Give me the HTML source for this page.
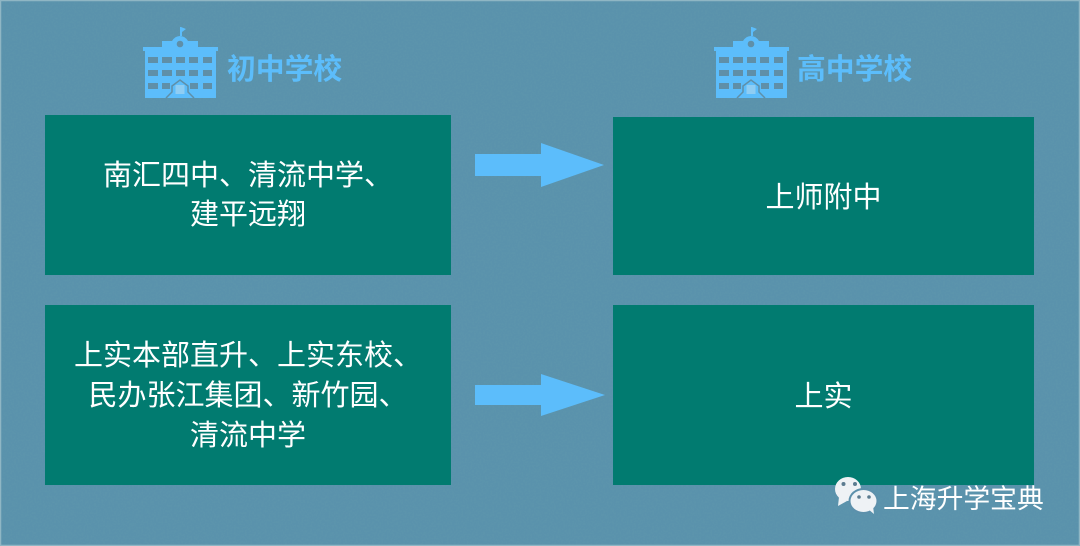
<!DOCTYPE html>
<html><head><meta charset="utf-8"><style>
html,body{margin:0;padding:0}
body{width:1080px;height:546px;overflow:hidden;position:relative;background:#5a8fa8;font-family:"Liberation Sans","Noto Sans CJK SC",sans-serif}
svg{position:absolute;left:0;top:0}
.t{position:absolute;white-space:nowrap;text-align:center;color:#fff;font-size:29px;line-height:40px}
.h{position:absolute;white-space:nowrap;color:#5cbdfb;font-size:28.8px;line-height:40px;font-weight:700}
</style></head><body>
<svg width="1080" height="546" viewBox="0 0 1080 546">
<defs>
<filter id="n" x="0" y="0" width="100%" height="100%"><feTurbulence type="fractalNoise" baseFrequency="0.55" numOctaves="3" seed="4"/><feColorMatrix values="0 0 0 0 0.12  0 0 0 0 0.32  0 0 0 0 0.42  1.6 0 0 0 -0.55"/></filter>
<g id="b">
<path d="M181 27l5 2-4 3v4h-2v-9z" fill="#5cbdfb"/>
<path d="M143 47h19v-6h10q3-5 8-5t8 5h10v6h20v4h-2v47h-71v-47h-2z" fill="#5cbdfb"/>
<circle cx="180" cy="44" r="3.3" fill="#5f8fa8"/>
<g fill="#5f8fa8">
<rect x="148" y="57" width="10" height="6"/><rect x="162" y="57" width="10" height="6"/><rect x="176" y="57" width="9" height="6"/><rect x="189" y="57" width="9" height="6"/><rect x="203" y="57" width="9" height="6"/>
<rect x="148" y="70" width="10" height="6"/><rect x="162" y="70" width="10" height="6"/><rect x="176" y="70" width="9" height="6"/><rect x="189" y="70" width="9" height="6"/><rect x="203" y="70" width="9" height="6"/>
<rect x="148" y="83" width="10" height="6"/><rect x="162" y="83" width="8" height="6"/><rect x="190" y="83" width="8" height="6"/><rect x="203" y="83" width="9" height="6"/>
</g>
<path d="M166 98l6-6v-6l8-6 8 6v6l6 6" fill="none" stroke="#5f8fa8" stroke-width="1.5"/>
<rect x="175.500" y="85" width="9" height="9" fill="#8fcdf3"/>
</g>
</defs>
<rect x="0" y="0" width="1080" height="546" fill="#5a92ac"/>
<rect x="0" y="0" width="1080" height="546" filter="url(#n)" opacity=".55"/>
<rect x="0.5" y="0.5" width="1079" height="545" fill="none" stroke="#8fb6c4" stroke-width="1.500"/>
<rect x="45" y="115" width="406" height="160" fill="#017b70"/>
<rect x="45" y="305" width="406" height="180" fill="#017b70"/>
<rect x="613" y="117" width="421" height="158" fill="#017b70"/>
<rect x="613" y="305" width="421" height="180" fill="#017b70"/>
<use href="#b"/>
<use href="#b" x="571"/>
<path d="M475 154h66v-11l63 22-63 22v-11h-66z" fill="#5cbdfb"/>
<path d="M475 385h66v-11l64 21-64 21v-11h-66z" fill="#5cbdfb"/>
<g fill="#eef2f5">
<ellipse cx="848" cy="489" rx="13" ry="12"/>
<path d="M839 497l-1 9 9-5z"/>
</g>
<ellipse cx="863.500" cy="501" rx="15" ry="13" fill="#5c90ab"/>
<g fill="#eef2f5">
<ellipse cx="863.500" cy="501" rx="13" ry="11"/>
<path d="M868 509l6 5-1-8z"/>
</g>
<g fill="#5c7c90">
<circle cx="843.500" cy="484" r="2"/><circle cx="855" cy="484" r="2"/>
<circle cx="859" cy="497" r="1.800"/><circle cx="869" cy="497" r="1.800"/>
</g>
</svg>
<div class="h" style="left:227px;top:50px">初中学校</div>
<div class="h" style="left:797px;top:50px">高中学校</div>
<div class="t" style="left:45px;width:406px;top:157px;line-height:39px">南汇四中、清流中学、<br>建平远翔</div>
<div class="t" style="left:45px;width:406px;top:336px">上实本部直升、上实东校、<br>民办张江集团、新竹园、<br>清流中学</div>
<div class="t" style="left:613px;width:421px;top:178px">上师附中</div>
<div class="t" style="left:613px;width:421px;top:377px">上实</div>
<div class="t" style="left:883px;top:479px;font-size:26.800px;line-height:40px">上海升学宝典</div>
</body></html>
